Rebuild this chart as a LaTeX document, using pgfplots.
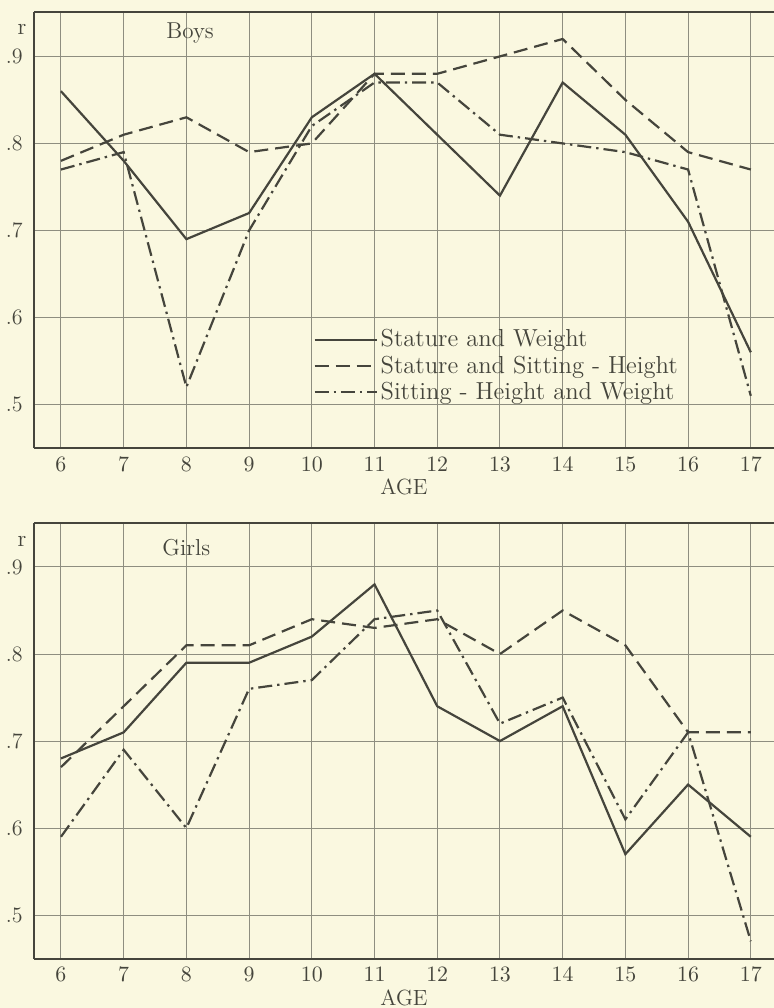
\documentclass[border=0pt]{standalone}
\usepackage{pgfplots}
\pgfplotsset{compat=1.18}

\definecolor{paper}{HTML}{FAF8E0}
\definecolor{ink}{HTML}{45453C}
\definecolor{gridc}{HTML}{8E8E80}

\pgfplotsset{
  agechart/.style={
    scale only axis,
    width=370pt, height=218pt,
    xmin=5.57, xmax=17.37,
    ymin=0.45, ymax=0.951,
    axis x line=box, axis y line=left,
    axis line style={-, ink, line width=1pt},
    xtick={6,...,17},
    ytick={0.5,0.6,0.7,0.8,0.9},
    yticklabels={.5,.6,.7,.8,.9},
    grid=major,
    major grid style={gridc, line width=0.5pt},
    tick style={draw=none},
    ticklabel style={font=\fontsize{11}{13}\selectfont, text=ink},
    xticklabel style={yshift=-1pt},
    xlabel={AGE},
    xlabel style={font=\fontsize{11}{13}\selectfont, text=ink, yshift=3pt},
    clip=false,
    every axis plot/.append style={ink, line width=1.1pt},
  },
  sw/.style={solid},
  ssh/.style={dash pattern=on 7pt off 3.5pt},
  shw/.style={dash pattern=on 7pt off 2.5pt on 1.2pt off 2.5pt},
}

\begin{document}
\begin{tikzpicture}
\fill[paper] (-17pt,6pt) rectangle (370pt,-498pt);
\useasboundingbox (-17pt,6pt) rectangle (370pt,-498pt);

% ---- Boys ----
\begin{axis}[agechart, anchor=north west, at={(0pt,0pt)},
    legend style={draw=none, fill=none, at={(axis cs:10.02,0.590)}, anchor=north west,
      font=\fontsize{12.3}{13}\selectfont, text=ink, inner sep=0pt,
      nodes={inner sep=1.5pt}, row sep=0pt},
    legend cell align=left,
    legend image code/.code={\draw[#1] (0pt,0pt) -- (31pt,0pt);}]
  \addplot[sw] coordinates {(6,.86) (7,.78) (8,.69) (9,.72) (10,.83) (11,.88)
    (12,.81) (13,.74) (14,.87) (15,.81) (16,.71) (17,.56)};
  \addlegendentry{Stature and Weight}
  \addplot[ssh] coordinates {(6,.78) (7,.81) (8,.83) (9,.79) (10,.80) (11,.88)
    (12,.88) (13,.90) (14,.92) (15,.85) (16,.79) (17,.77)};
  \addlegendentry{Stature and Sitting - Height}
  \addplot[shw] coordinates {(6,.77) (7,.79) (8,.52) (9,.70) (10,.82) (11,.87)
    (12,.87) (13,.81) (14,.80) (15,.79) (16,.77) (17,.51)};
  \addlegendentry{Sitting - Height and Weight}
  \node[ink, font=\fontsize{11.5}{13}\selectfont] at (axis cs:8.06,0.927) {Boys};
  \node[ink, font=\fontsize{11.5}{13}\selectfont] at (axis cs:5.38,0.931) {r};
\end{axis}

% ---- Girls ----
\begin{axis}[agechart, anchor=north west, at={(0pt,-255.3pt)}]
  \addplot[sw] coordinates {(6,.68) (7,.71) (8,.79) (9,.79) (10,.82) (11,.88)
    (12,.74) (13,.70) (14,.74) (15,.57) (16,.65) (17,.59)};
  \addplot[ssh] coordinates {(6,.67) (7,.74) (8,.81) (9,.81) (10,.84) (11,.83)
    (12,.84) (13,.80) (14,.85) (15,.81) (16,.71) (17,.71)};
  \addplot[shw] coordinates {(6,.59) (7,.69) (8,.60) (9,.76) (10,.77) (11,.84)
    (12,.85) (13,.72) (14,.75) (15,.61) (16,.71) (17,.47)};
  \node[ink, font=\fontsize{11.5}{13}\selectfont] at (axis cs:8.0,0.922) {Girls};
  \node[ink, font=\fontsize{11.5}{13}\selectfont] at (axis cs:5.38,0.929) {r};
\end{axis}
\end{tikzpicture}
\end{document}
